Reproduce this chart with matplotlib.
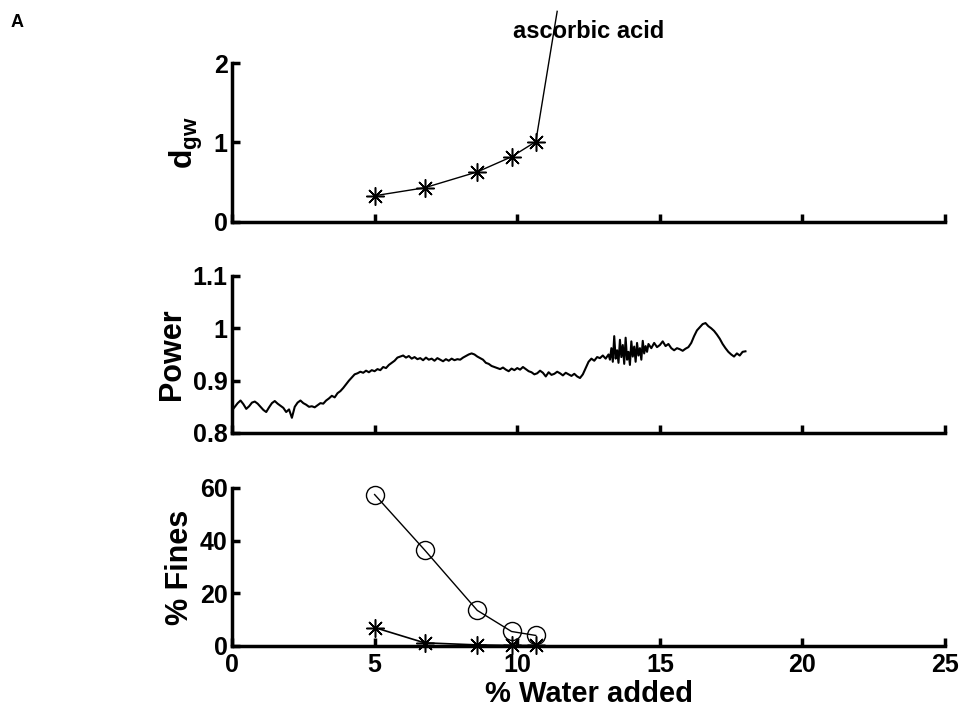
import numpy as np
import matplotlib
matplotlib.use("Agg")
import matplotlib.pyplot as plt

plt.rcParams["font.family"] = ["Liberation Sans", "DejaVu Sans"]
plt.rcParams["font.weight"] = "bold"
plt.rcParams["mathtext.fontset"] = "custom"
plt.rcParams["mathtext.bf"] = "Liberation Sans:bold"
plt.rcParams["mathtext.rm"] = "Liberation Sans:bold"

# water added (%) at each sampling point
water = [5.0, 6.75, 8.6, 9.8, 10.65]

# top panel: geometric weight diameter, last point is off the scale
dgw_x = water + [11.4]
dgw = [0.33, 0.43, 0.63, 0.82, 1.01, 2.65]

# bottom panel: % fines, two series
fines_circ = [57.5, 36.5, 13.5, 5.5, 4.0]
fines_star = [7.0, 1.2, 0.4, 0.2, 0.2]

# middle panel: power trace
# 0 - 13.2 every 0.1
power_a = [
    0.843, 0.850, 0.857, 0.862, 0.855, 0.846, 0.851, 0.858, 0.860, 0.856,
    0.850, 0.844, 0.840, 0.849, 0.857, 0.861, 0.856, 0.852, 0.848, 0.840,
    0.845, 0.829, 0.850, 0.858, 0.862, 0.857, 0.854, 0.850, 0.851, 0.849,
    0.853, 0.857, 0.856, 0.862, 0.866, 0.871, 0.868, 0.876, 0.880, 0.886,
    0.893, 0.900, 0.906, 0.912, 0.914, 0.917, 0.915, 0.919, 0.916, 0.920,
    0.918, 0.922, 0.920, 0.926, 0.924, 0.930, 0.934, 0.938, 0.944, 0.946,
    0.948, 0.944, 0.947, 0.942, 0.945, 0.941, 0.943, 0.939, 0.944, 0.940,
    0.942, 0.938, 0.943, 0.940, 0.937, 0.941, 0.938, 0.942, 0.939, 0.941,
    0.940, 0.944, 0.947, 0.950, 0.952, 0.950, 0.946, 0.943, 0.940, 0.934,
    0.932, 0.928, 0.926, 0.924, 0.922, 0.925, 0.921, 0.918, 0.923, 0.920,
    0.924, 0.921, 0.926, 0.922, 0.918, 0.916, 0.912, 0.914, 0.919, 0.915,
    0.908, 0.916, 0.911, 0.913, 0.917, 0.914, 0.910, 0.915, 0.912, 0.909,
    0.913, 0.908, 0.905, 0.912, 0.924, 0.936, 0.942, 0.938, 0.945, 0.943,
    0.948, 0.942, 0.950,
]
# 13.25 - 14.6 every 0.05 (noisy stretch)
power_b = [
    0.940, 0.962, 0.936, 0.985, 0.942, 0.958, 0.934, 0.978, 0.945, 0.968,
    0.932, 0.982, 0.940, 0.955, 0.930, 0.975, 0.946, 0.965, 0.936, 0.972,
    0.948, 0.962, 0.940, 0.976, 0.952, 0.966, 0.955, 0.970,
]
# 14.7 - 18.0 every 0.1
power_c = [
    0.962, 0.972, 0.964,
    0.968, 0.975, 0.966, 0.970, 0.962, 0.958, 0.962, 0.960, 0.957, 0.961,
    0.964, 0.972, 0.985, 0.996, 1.002, 1.008, 1.010, 1.004, 1.000, 0.995,
    0.988, 0.980, 0.970, 0.962, 0.955, 0.950, 0.946, 0.952, 0.948, 0.955,
    0.956,
]
power_x = np.concatenate([np.arange(len(power_a)) * 0.1,
                          13.25 + np.arange(len(power_b)) * 0.05,
                          14.7 + np.arange(len(power_c)) * 0.1])
power = power_a + power_b + power_c

x_ticks = [0, 5, 10, 15, 20, 25]
star = (8, 2, 0)
tick_fs = 18
label_fs = 22


def style_axis(ax, ylim, yticks, ylabels, show_x):
    ax.set_xlim(0, 25)
    ax.set_ylim(*ylim)
    ax.set_yticks(yticks)
    ax.set_yticklabels(ylabels)
    ax.set_xticks(x_ticks)
    if not show_x:
        ax.set_xticklabels([])
    for s in ["top", "right"]:
        ax.spines[s].set_visible(False)
    for s in ["left", "bottom"]:
        ax.spines[s].set_linewidth(2.5)
    ax.tick_params(direction="in", length=6, width=2.5, labelsize=tick_fs)
    ax.tick_params(axis="y", pad=3)
    ax.tick_params(axis="x", pad=5)
    for lab in ax.get_xticklabels() + ax.get_yticklabels():
        lab.set_fontweight("bold")


fig = plt.figure(figsize=(9.65, 7.16), dpi=100)
ax1 = fig.add_axes([0.2404, 0.690, 0.739, 0.222])
ax2 = fig.add_axes([0.2404, 0.3953, 0.739, 0.2193])
ax3 = fig.add_axes([0.2404, 0.0978, 0.739, 0.2207])

ax1.plot(dgw_x, dgw, color="black", lw=1, marker=star, ms=13, mew=1.1,
         markevery=[0, 1, 2, 3, 4], clip_on=False)
style_axis(ax1, (0, 2), [0, 1, 2], ["0", "1", "2"], False)
ax1.set_ylabel(r"$\mathbf{d_{gw}}$", fontsize=23, labelpad=6)
ax1.set_title("ascorbic acid", fontsize=17, fontweight="bold", pad=18)

ax2.plot(power_x, power, color="black", lw=1.5)
style_axis(ax2, (0.8, 1.1), [0.8, 0.9, 1.0, 1.1], ["0.8", "0.9", "1", "1.1"], False)
ax2.set_ylabel("Power", fontsize=label_fs, fontweight="bold", labelpad=4)

ax3.plot(water, fines_circ, color="black", lw=1, marker="o", ms=13, mfc="none",
         mew=1, clip_on=False)
ax3.plot(water, fines_star, color="black", lw=1.2, marker=star, ms=13, mew=1.1,
         clip_on=False)
style_axis(ax3, (0, 60), [0, 20, 40, 60], ["0", "20", "40", "60"], True)
ax3.set_ylabel("% Fines", fontsize=label_fs, fontweight="bold", labelpad=4)
ax3.set_xlabel("% Water added", fontsize=21, fontweight="bold", labelpad=2)

fig.text(0.011, 0.962, "A", fontsize=13, fontweight="bold")

fig.savefig("out.png", dpi=100)
